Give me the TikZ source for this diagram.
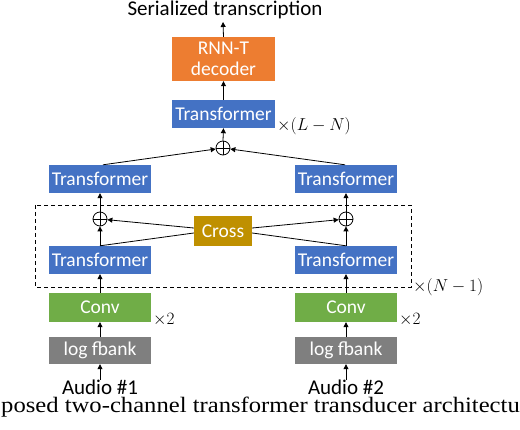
\documentclass[tikz,border=0pt]{standalone}
\usepackage{fontspec}
\setmainfont{Carlito}
\newfontfamily\capfont{Liberation Serif}
\usetikzlibrary{arrows.meta,calc}
\definecolor{cblue}{HTML}{4472C4}
\definecolor{corange}{HTML}{ED7D31}
\definecolor{cgreen}{HTML}{70AD47}
\definecolor{cgray}{HTML}{7F7F7F}
\definecolor{cgold}{HTML}{BF9000}
\tikzset{
  blk/.style={minimum width=102pt, minimum height=28pt, inner sep=0pt, text=white,
    font=\fontsize{19.5}{23}\selectfont, align=center},
  tbox/.style={blk, fill=cblue},
  plusnode/.style={circle, draw, line width=0.8pt, minimum size=14pt, inner sep=0pt,
    path picture={\draw[line width=0.8pt] (path picture bounding box.north) -- (path picture bounding box.south)
      (path picture bounding box.west) -- (path picture bounding box.east);}},
  arr/.style={line width=0.8pt, -{Triangle[length=5pt,width=5pt]}},
  ln/.style={line width=0.8pt},
  lbl/.style={font=\fontsize{21}{24}\selectfont, inner sep=0pt},
  mlbl/.style={font=\fontsize{17}{20}\selectfont, inner sep=0pt, anchor=west},
}
\begin{document}
\begin{tikzpicture}[x=1pt,y=-1pt]
\useasboundingbox (0,0) rectangle (520,430);
% top part
\node[lbl, anchor=base] (ser) at (225,16) {Serialized transcription};
\coordinate (serin) at (223,22);
\node[blk, fill=corange, minimum width=103pt, minimum height=44pt] (dec) at (223.5,59) {RNN-T\\[-2pt]decoder};
\node[tbox, minimum width=103pt] (topT) at (223.5,114) {Transformer};
\node[mlbl] (xLN) at (277,126) {$\times(L-N)$};
\node[plusnode] (ptop) at (223,148) {};
% upper transformers
\node[tbox] (UL) at (100,179) {Transformer};
\node[tbox] (UR) at (346,179) {Transformer};
% dashed block
\draw[line width=0.9pt, dash pattern=on 4pt off 3pt] (35,205) rectangle (411,287);
\node[mlbl] (xN) at (413,287) {$\times(N-1)$};
\node[plusnode] (pL) at (100,219) {};
\node[plusnode] (pR) at (346,219) {};
\node[blk, fill=cgold, minimum width=58pt, minimum height=30pt] (cross) at (223,231) {Cross};
\node[tbox] (LL) at (100,260) {Transformer};
\node[tbox] (LR) at (346,260) {Transformer};
% front-end
\node[blk, fill=cgreen, minimum height=29pt] (convL) at (100,307.5) {Conv};
\node[blk, fill=cgreen, minimum height=29pt] (convR) at (346,307.5) {Conv};
\node[mlbl] (x2L) at (153,320) {$\times2$};
\node[mlbl] (x2R) at (399,320) {$\times2$};
\node[blk, fill=cgray, minimum height=27pt] (fbL) at (100,350.5) {log fbank};
\node[blk, fill=cgray, minimum height=27pt] (fbR) at (346,350.5) {log fbank};
\node[lbl, anchor=base] (audL) at (100,395) {Audio \#1};
\node[lbl, anchor=base] (audR) at (346,395) {Audio \#2};
% caption (cropped)
\node[inner sep=0pt, anchor=base west, font=\capfont\fontsize{22}{24}\selectfont] (cap) at (1,413)
  {\scalebox{1.12}[1]{posed two-channel transformer transducer architecture}};
% connectors
\draw[arr] (dec.north) -- (serin);
\draw[arr] (topT.north) -- (dec.south);
\draw[arr] (ptop.north) -- (topT.south);
\draw[arr] ([xshift=3pt]UL.north) -- (ptop);
\draw[arr] ([xshift=-1pt]UR.north) -- (ptop);
\draw[arr] (pL.north) -- (UL.south);
\draw[arr] (pR.north) -- (UR.south);
\draw[arr] (LL.north) -- (pL.south);
\draw[arr] (LR.north) -- (pR.south);
\draw[ln] (LL.north) -- ([yshift=-2pt]cross.west);
\draw[ln] (LR.north) -- ([yshift=-2pt]cross.east);
\draw[arr] ([yshift=3pt]cross.west) -- (pL);
\draw[arr] ([yshift=3pt]cross.east) -- (pR);
\draw[arr] (convL.north) -- (LL.south);
\draw[arr] (convR.north) -- (LR.south);
\draw[arr] (fbL.north) -- (convL.south);
\draw[arr] (fbR.north) -- (convR.south);
\draw[arr] (audL.north) -- (fbL.south);
\draw[arr] (audR.north) -- (fbR.south);
\end{tikzpicture}
\end{document}
